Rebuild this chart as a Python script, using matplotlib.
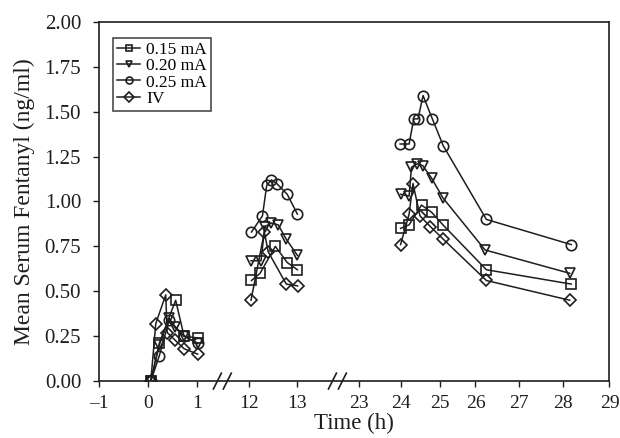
import matplotlib
matplotlib.use("Agg")
import matplotlib.pyplot as plt
import matplotlib.transforms as mtransforms
import numpy as np

# time in hours, serum fentanyl in ng/ml
t_015 = [0.06, 0.23, 0.56, 0.73, 1.03,
         12.05, 12.23, 12.55, 12.80, 13.10,
         23.99, 24.21, 24.53, 24.79, 25.09, 26.25, 28.18]
v_015 = [0.00, 0.21, 0.45, 0.25, 0.24,
         0.56, 0.60, 0.75, 0.66, 0.62,
         0.85, 0.87, 0.98, 0.94, 0.87, 0.62, 0.54]

t_020 = [0.06, 0.23, 0.43, 0.54, 0.73, 1.03,
         12.04, 12.25, 12.33, 12.47, 12.61, 12.78, 13.10,
         23.99, 24.21, 24.27, 24.42, 24.56, 24.79, 25.09, 26.22, 28.15]
v_020 = [0.00, 0.20, 0.35, 0.30, 0.25, 0.21,
         0.67, 0.67, 0.86, 0.88, 0.87, 0.79, 0.70,
         1.04, 1.03, 1.19, 1.21, 1.20, 1.13, 1.02, 0.73, 0.60]

t_025 = [0.06, 0.23, 0.43, 0.73, 1.03,
         12.05, 12.28, 12.37, 12.47, 12.58, 12.80, 13.10,
         23.98, 24.21, 24.33, 24.44, 24.57, 24.81, 25.10, 26.25, 28.18]
v_025 = [0.00, 0.14, 0.34, 0.25, 0.21,
         0.83, 0.92, 1.09, 1.12, 1.10, 1.04, 0.93,
         1.32, 1.32, 1.46, 1.46, 1.59, 1.46, 1.31, 0.90, 0.76]

t_iv = [0.06, 0.16, 0.36, 0.39, 0.54, 0.73, 1.03,
        12.04, 12.32, 12.40, 12.78, 13.13,
        23.99, 24.21, 24.31, 24.49, 24.76, 25.10, 26.25, 28.15]
v_iv = [0.00, 0.32, 0.48, 0.27, 0.23, 0.18, 0.15,
        0.45, 0.83, 0.72, 0.54, 0.53,
        0.76, 0.93, 1.10, 0.92, 0.86, 0.79, 0.56, 0.45]

x_ticks = [-1, 0, 1, 12, 13, 23, 24, 25, 26, 27, 28, 29]
x_tick_labels = ["\u20131", "0", "1", "12", "13", "23", "24", "25",
                 "26", "27", "28", "29"]
y_ticks = np.arange(0, 2.01, 0.25)

# broken time axis: hours -> plot position
KNOT_H = [-1, 0, 1, 12, 13, 23, 24, 25, 26, 27, 28, 29]
KNOT_POS = [0, 49, 99, 151, 199, 262, 304, 343, 379, 423, 467, 514]
BREAKS_H = [6.3, 19.5]


def fwd(h):
    return np.interp(h, KNOT_H, KNOT_POS)


def inv(p):
    return np.interp(p, KNOT_POS, KNOT_H)


plt.rcParams["font.family"] = ["Liberation Serif", "DejaVu Serif"]

ink = "#1e1e1e"
fig = plt.figure(figsize=(6.2, 4.38), dpi=100)
ax = fig.add_axes([0.16, 0.13, 0.823, 0.82])
ax.set_xscale("function", functions=(fwd, inv))

series = [
    (t_015, v_015, "s", 7.5, "0.15 mA"),
    (t_020, v_020, "v", 7.5, "0.20 mA"),
    (t_025, v_025, "o", 7.5, "0.25 mA"),
    (t_iv, v_iv, "D", 6.0, "IV"),
]
for t, v, m, ms, lab in series:
    t = np.array(t)
    v = np.array(v)
    # connect points only inside each session
    seg = np.digitize(t, [6, 18])
    first = True
    for s in np.unique(seg):
        k = seg == s
        ax.plot(t[k], v[k], color=ink, lw=1.1, marker=m, ms=ms,
                mfc="none", mec=ink, mew=1.2,
                label=lab if first else None)
        first = False

ax.set_xlim(-1, 29)
ax.set_ylim(0, 2.0)
ax.set_xticks(x_ticks)
ax.set_xticklabels(x_tick_labels)
ax.set_yticks(y_ticks)
ax.set_yticklabels([f"{y:.2f}" for y in y_ticks])
ax.minorticks_off()
ax.tick_params(direction="out", length=4, width=1.0, color=ink,
               labelcolor=ink)
ax.tick_params(axis="y", pad=9, labelsize=15)
ax.tick_params(axis="x", pad=6, labelsize=14)
for sp in ax.spines.values():
    sp.set_linewidth(1.2)
    sp.set_color(ink)

# break marks on the time axis
trans = mtransforms.blended_transform_factory(ax.transData, ax.transAxes)
for bh in BREAKS_H:
    p = fwd(bh)
    for dp in (-5, 5):
        x0 = inv(p + dp - 4)
        x1 = inv(p + dp + 4)
        ax.plot([x0, x1], [-0.022, 0.022], color=ink, lw=1.2,
                transform=trans, clip_on=False)

ax.set_xlabel("Time (h)", color=ink, fontsize=16.5, labelpad=1)
ax.set_ylabel("Mean Serum Fentanyl (ng/ml)", color=ink, fontsize=17,
              labelpad=7)

leg = ax.legend(loc="upper left", bbox_to_anchor=(0.027, 0.956),
                prop={"size": 12.5}, frameon=True, fancybox=False,
                edgecolor=ink, borderpad=0.25, labelspacing=0.0,
                handlelength=1.3, handletextpad=0.35, borderaxespad=0)
leg.get_frame().set_linewidth(1.2)
for h in leg.legend_handles:
    h.set_markersize(5)

fig.savefig("out.png", dpi=100)
